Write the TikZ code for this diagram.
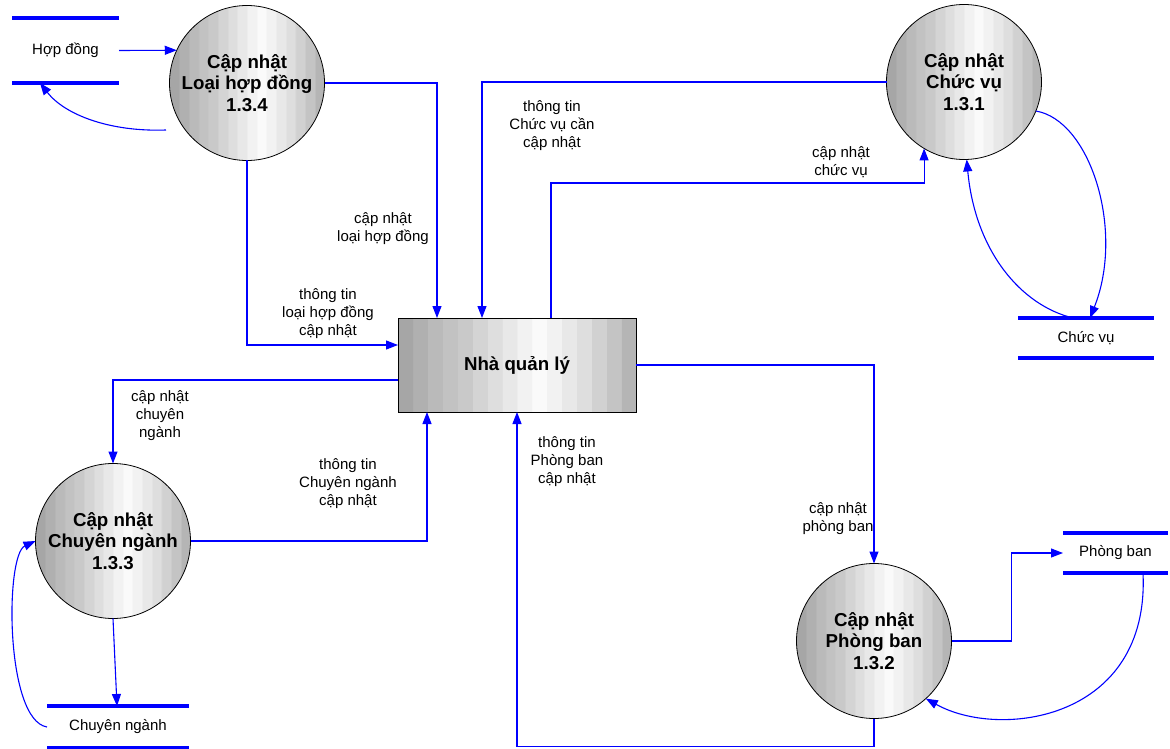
\documentclass[tikz,border=0pt]{standalone}
\usepackage{fontspec}
\setmainfont{Liberation Sans}
\usetikzlibrary{arrows.meta,calc}
\definecolor{flowblue}{RGB}{0,0,255}
\pgfdeclarehorizontalshading{bands}{100bp}{%
color(0bp)=(black!35); color(28.08bp)=(black!35);
color(28.17bp)=(black!31); color(31.21bp)=(black!31);
color(31.29bp)=(black!27); color(34.33bp)=(black!27);
color(34.42bp)=(black!24); color(37.46bp)=(black!24);
color(37.54bp)=(black!21); color(40.58bp)=(black!21);
color(40.67bp)=(black!17); color(43.71bp)=(black!17);
color(43.79bp)=(black!13); color(46.83bp)=(black!13);
color(46.92bp)=(black!9); color(49.96bp)=(black!9);
color(50.04bp)=(black!5); color(53.08bp)=(black!5);
color(53.17bp)=(black!2); color(56.21bp)=(black!2);
color(56.29bp)=(black!5); color(59.33bp)=(black!5);
color(59.42bp)=(black!9); color(62.46bp)=(black!9);
color(62.54bp)=(black!13); color(65.58bp)=(black!13);
color(65.67bp)=(black!18); color(68.71bp)=(black!18);
color(68.79bp)=(black!23); color(71.83bp)=(black!23);
color(71.92bp)=(black!29); color(100bp)=(black!29)}
\begin{document}
\begin{tikzpicture}[x=1pt,y=-1pt,
  proc/.style={circle,draw=black,line width=0.8pt,minimum size=155pt,inner sep=0pt,outer sep=0pt,
    shade,shading=bands,align=center,
    font=\fontsize{18.7}{21.5}\selectfont\bfseries},
  entity/.style={rectangle,draw=black,line width=0.8pt,minimum width=238pt,minimum height=94pt,outer sep=0pt,
    shade,shading=bands,
    font=\fontsize{18.7}{21.5}\selectfont\bfseries},
  store/.style={rectangle,inner sep=0pt,outer sep=0pt,font=\fontsize{15}{18}\selectfont},
  storeline/.style={draw=flowblue,line width=3.5pt},
  flow/.style={draw=flowblue,line width=1.1pt,-{Triangle[length=12pt,width=9pt]}},
  lbl/.style={align=center,inner sep=0pt,font=\fontsize{15}{18}\selectfont}
]
\useasboundingbox (0,0) rectangle (1170,749);

% processes
\node[proc] (c134) at (247,83) {Cập nhật\\Loại hợp đồng\\1.3.4};
\node[proc] (c131) at (964,82) {Cập nhật\\Chức vụ\\1.3.1};
\node[proc] (c133) at (113,541) {Cập nhật\\Chuyên ngành\\1.3.3};
\node[proc] (c132) at (874,641) {Cập nhật\\Phòng ban\\1.3.2};

% entity
\node[entity] (nql) at (517,365) {Nhà quản lý};

% data stores
\node[store,minimum width=107pt,minimum height=65pt] (shd) at (65.5,50.5) {Hợp đồng};
\node[store,minimum width=136pt,minimum height=40pt] (scv) at (1086,338) {Chức vụ};
\node[store,minimum width=105pt,minimum height=40pt] (spb) at (1115.5,553) {Phòng ban};
\node[store,minimum width=142pt,minimum height=42pt] (scn) at (118,727) {Chuyên ngành};
\foreach \s in {shd,scv,spb,scn}{
  \draw[storeline] (\s.north west) -- (\s.north east);
  \draw[storeline] (\s.south west) -- (\s.south east);
}

% free end of the return flow near 1.3.4
\coordinate (r134) at ($(c134.center)+(-81,47)$);

% flows
\draw[flow] (shd.east) -- (c134.155);
\draw[flow] (r134) .. controls (110,132) and (65,115) .. ($(shd.south west)+(28,0)$);

\draw[flow] (c134.east) -| ($(nql.north west)+(39,0)$);
\draw[flow] (c134.south) |- ($(nql.north west)+(0,27)$);
\draw[flow] (c131.west) -| ($(nql.north west)+(84,0)$);
\draw[flow] ($(nql.north west)+(153,0)$) -- ++(0,-135) -| (c131.-121);

\draw[flow] (c131.-22) .. controls (1090,120) and (1125,230) .. ($(scv.north west)+(72,0)$);
\draw[flow] ($(scv.north west)+(55,0)$) .. controls (1020,305) and (975,250) .. (c131.-88);

\draw[flow] ($(nql.west)+(0,15)$) -| (c133.north);
\draw[flow] (c133.east) -| ($(nql.south west)+(29,0)$);
\draw[flow] (c133.south) -- ($(scn.north west)+(70,0)$);
\draw[flow] (scn.west) .. controls (5,720) and (5,555) .. (c133.west);

\draw[flow] (nql.east) -| (c132.north);
\draw[flow] (c132.south) -- ++(0,28) -| ($(nql.south west)+(119,0)$);
\draw[flow] (c132.east) -- ++(60,0) |- (spb.west);
\draw[flow] ($(spb.south west)+(80,0)$) .. controls (1150,720) and (1000,740) .. (c132.-48);

% labels
\node[lbl] (l1) at (383,229) {cập nhật\\loại hợp đồng};
\node[lbl] (l2) at (328,314) {thông tin\\loại hợp đồng\\cập nhật};
\node[lbl] (l3) at (552,126) {thông tin\\Chức vụ cần\\cập nhật};
\node[lbl] (l4) at (841,162) {cập nhật\\chức vụ};
\node[lbl] (l5) at (160,416) {cập nhật\\chuyên\\ngành};
\node[lbl] (l6) at (348,484) {thông tin\\Chuyên ngành\\cập nhật};
\node[lbl] (l7) at (567,462) {thông tin\\Phòng ban\\cập nhật};
\node[lbl] (l8) at (838,519) {cập nhật\\phòng ban};
\end{tikzpicture}
\end{document}
